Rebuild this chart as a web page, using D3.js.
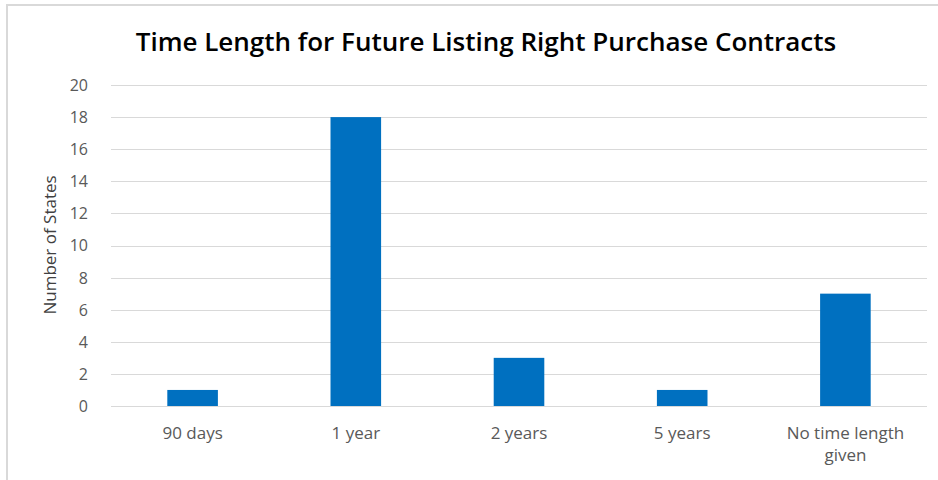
<!DOCTYPE html>
<html>
<head>
<meta charset="utf-8">
<script src="https://cdn.jsdelivr.net/npm/d3@7"></script>
<style>
  html, body { margin: 0; padding: 0; background: #fff; }
  svg { display: block; }
  text { font-family: "Open Sans", sans-serif; }
</style>
</head>
<body>
<svg id="chart" width="938" height="480"></svg>
<script>
const categories = ["90 days", "1 year", "2 years", "5 years", "No time length given"];
const values = [1, 18, 3, 1, 7];
const yTicks = [0, 2, 4, 6, 8, 10, 12, 14, 16, 18, 20];
const title = "Time Length for Future Listing Right Purchase Contracts";
const yTitle = "Number of States";

const svg = d3.select("#chart");
const W = 938, H = 480;
const m = { left: 111, right: 11, top: 85, bottom: 74 };

// frame
svg.append("rect").attr("x", 7).attr("y", 5).attr("width", W).attr("height", H)
  .attr("fill", "#fff").attr("stroke", "#d9d9d9").attr("stroke-width", 2);

const x = d3.scaleBand().domain(categories).range([m.left, W - m.right]).paddingInner(0.69).paddingOuter(0.345);
const y = d3.scaleLinear().domain([0, 20]).range([H - m.bottom, m.top]);

// gridlines
svg.append("g").selectAll("line").data(yTicks).join("line")
  .attr("x1", m.left).attr("x2", W - m.right)
  .attr("y1", d => Math.round(y(d)) + 0.5).attr("y2", d => Math.round(y(d)) + 0.5)
  .attr("stroke", "#d9d9d9").attr("stroke-width", 1);

// y axis labels
const yAxis = d3.axisLeft(y).tickValues(yTicks).tickSize(0).tickPadding(0);
const gy = svg.append("g").attr("transform", `translate(88,0)`).call(yAxis);
gy.select(".domain").remove();
gy.selectAll("text").attr("fill", "#595959").style("font-size", "16px").attr("dy", "0.34em");

// bars
svg.append("g").selectAll("rect").data(values).join("rect")
  .attr("x", (d, i) => x(categories[i]))
  .attr("width", x.bandwidth())
  .attr("y", d => y(d))
  .attr("height", d => y(0) - y(d))
  .attr("fill", "#0070c0");

// x axis
const xAxis = d3.axisBottom(x).tickSize(0).tickPadding(0);
const gx = svg.append("g").attr("transform", `translate(0,${H - m.bottom})`).call(xAxis);
gx.select(".domain").remove();
gx.selectAll("text").attr("fill", "#595959").style("font-size", "17px").attr("y", 33).attr("dy", 0)
  .each(function (d) {
    const t = d3.select(this);
    const words = d.split(" ");
    const maxW = x.step() - 20;
    t.text(null);
    let line = [];
    let tspan = t.append("tspan").attr("x", 0).attr("dy", 0);
    for (const w of words) {
      line.push(w);
      tspan.text(line.join(" "));
      if (tspan.node().getComputedTextLength() > maxW && line.length > 1) {
        line.pop();
        tspan.text(line.join(" "));
        line = [w];
        tspan = t.append("tspan").attr("x", 0).attr("dy", "1.3em").text(w);
      }
    }
  });

// title
svg.append("text").attr("x", 486).attr("y", 51).attr("text-anchor", "middle")
  .style("font-size", "26px").style("font-weight", 600).attr("fill", "#000").text(title);

// y title
svg.append("text").attr("transform", `translate(56,245) rotate(-90)`).attr("text-anchor", "middle")
  .style("font-size", "17px").attr("fill", "#404040").text(yTitle);
</script>
</body>
</html>
